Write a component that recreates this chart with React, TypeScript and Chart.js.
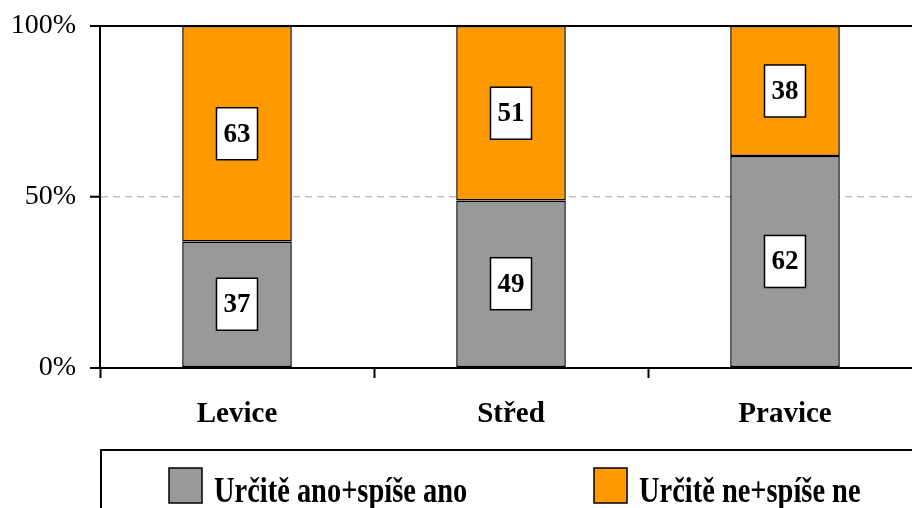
import React, { useEffect, useRef } from "react";
import { Chart, registerables } from "chart.js";

Chart.register(...registerables);

const categories = ["Levice", "Střed", "Pravice"];
const seriesNames = ["Určitě ano+spíše ano", "Určitě ne+spíše ne"];
const yesValues = [37, 49, 62];
const noValues = [63, 51, 38];
const seriesColors = ["#999999", "#FF9900"];
const yTicks = [0, 50, 100];

const FONT = "'Liberation Serif', 'Times New Roman', serif";

const labelPlugin = {
  id: "boxLabels",
  afterDatasetsDraw(chart: any) {
    const ctx = chart.ctx;
    ctx.save();
    ctx.font = `bold 27px ${FONT}`;
    ctx.textAlign = "center";
    ctx.textBaseline = "middle";
    chart.data.datasets.forEach((ds: any, di: number) => {
      const meta = chart.getDatasetMeta(di);
      meta.data.forEach((el: any, i: number) => {
        const v = ds.data[i];
        const text = String(v);
        const cx = el.x;
        const cy = (el.y + el.base) / 2;
        const w = 41;
        const h = 52;
        ctx.fillStyle = "#ffffff";
        ctx.fillRect(cx - w / 2, cy - h / 2, w, h);
        ctx.strokeStyle = "#000000";
        ctx.lineWidth = 1.5;
        ctx.strokeRect(cx - w / 2, cy - h / 2, w, h);
        ctx.fillStyle = "#000000";
        ctx.fillText(text, cx, cy + 1);
      });
    });
    ctx.restore();
  },
};

const legendPlugin = {
  id: "boxLegend",
  afterDraw(chart: any) {
    const ctx = chart.ctx;
    ctx.save();
    ctx.strokeStyle = "#000000";
    ctx.lineWidth = 2;
    ctx.strokeRect(101, 450, 840, 80);
    const itemX = [169, 594];
    chart.data.datasets.forEach((ds: any, i: number) => {
      const x = itemX[i];
      ctx.fillStyle = ds.backgroundColor;
      ctx.fillRect(x, 468, 33, 35);
      ctx.lineWidth = 1.5;
      ctx.strokeRect(x, 468, 33, 35);
      ctx.save();
      ctx.translate(x + 45, 502);
      ctx.scale(0.79, 1);
      ctx.font = `bold 36px ${FONT}`;
      ctx.fillStyle = "#000000";
      ctx.textAlign = "left";
      ctx.textBaseline = "alphabetic";
      ctx.fillText(ds.label, 0, 0);
      ctx.restore();
    });
    ctx.restore();
  },
};

export default function App() {
  const ref = useRef<HTMLCanvasElement>(null);
  useEffect(() => {
    document.body.style.margin = "0";
    const chart = new Chart(ref.current!, {
      type: "bar",
      data: {
        labels: categories,
        datasets: [
          {
            label: seriesNames[0],
            data: yesValues,
            backgroundColor: seriesColors[0],
            borderColor: "#000000",
            borderWidth: 1.5,
            borderSkipped: false,
          },
          {
            label: seriesNames[1],
            data: noValues,
            backgroundColor: seriesColors[1],
            borderColor: "#000000",
            borderWidth: 1.5,
            borderSkipped: false,
          },
        ],
      },
      options: {
        animation: false,
        responsive: false,
        devicePixelRatio: 1,
        layout: { padding: { top: 26, left: 0, right: 0, bottom: 62 } },
        datasets: { bar: { barPercentage: 0.4, categoryPercentage: 1 } },
        plugins: {
          legend: { display: false },
          tooltip: { enabled: false },
        },
        scales: {
          x: {
            stacked: true,
            offset: true,
            afterFit(scale: any) {
              scale.height = 78;
              scale.paddingLeft = 0;
              scale.paddingRight = 0;
            },
            grid: {
              offset: true,
              drawOnChartArea: false,
              drawTicks: true,
              tickLength: 10,
              tickColor: "#000000",
              tickWidth: 2,
            },
            border: { display: true, color: "#000000", width: 2 },
            ticks: {
              color: "#000000",
              padding: 19,
              font: { family: FONT, size: 29, weight: "bold" },
            },
          },
          y: {
            stacked: true,
            min: 0,
            max: 100,
            afterFit(scale: any) {
              scale.width = 100;
              scale.paddingTop = 0;
              scale.paddingBottom = 0;
            },
            afterBuildTicks(scale: any) {
              scale.ticks = yTicks.map((v) => ({ value: v }));
            },
            grid: {
              drawTicks: true,
              tickLength: 10,
              tickColor: "#000000",
              tickWidth: 2,
              color: (c: any) =>
                c.tick && c.tick.value === 50 ? "#c0c0c0" : c.tick && c.tick.value === 100 ? "#000000" : "rgba(0,0,0,0)",
              lineWidth: (c: any) => (c.tick && c.tick.value === 50 ? 1.5 : 2),
            },
            border: {
              display: true,
              color: "#000000",
              width: 2,
              dash: (c: any) => (c.tick && c.tick.value === 50 ? [7, 5] : []),
            },
            ticks: {
              color: "#000000",
              padding: 14,
              font: { family: FONT, size: 28 },
              callback: (v: any) => v + "%",
            },
          },
        },
      },
      plugins: [labelPlugin, legendPlugin],
    } as any);
    return () => chart.destroy();
  }, []);
  return (
    <div style={{ width: 912, height: 508, overflow: "hidden" }}>
      <canvas ref={ref} width={922} height={508} style={{ display: "block" }} />
    </div>
  );
}
